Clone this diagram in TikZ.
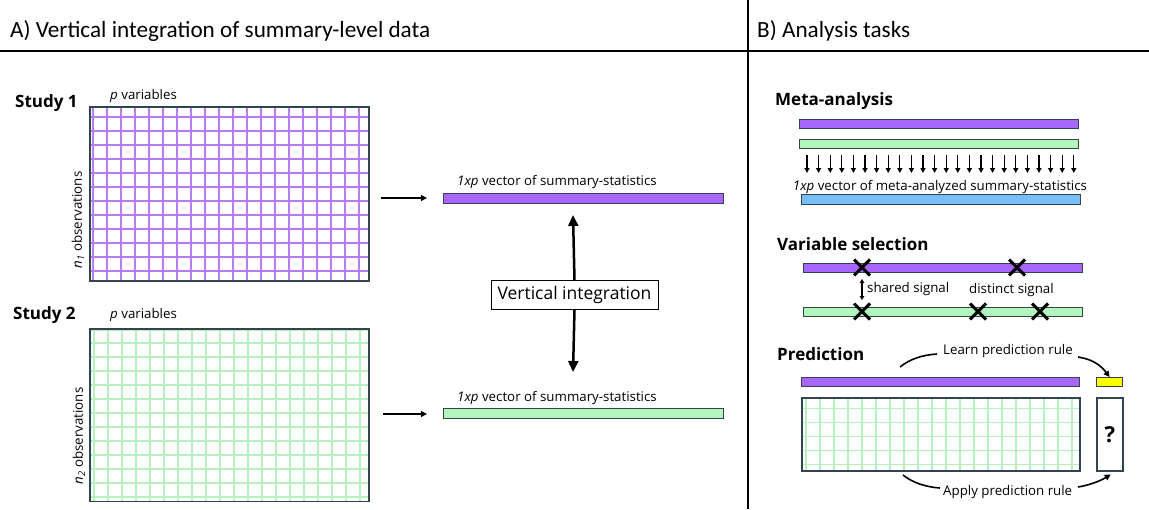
\documentclass[tikz,border=0pt]{standalone}
\usepackage{fontspec}
\setmainfont{Open Sans}
\newfontfamily\hdrfont{Carlito}
\usetikzlibrary{arrows.meta,shapes.misc}
\definecolor{purpgrid}{HTML}{B57CF5}
\definecolor{purpfill}{HTML}{A866FF}
\definecolor{greengrid}{HTML}{B8F0C0}
\definecolor{greenfill}{HTML}{B4F5BD}
\definecolor{bluefill}{HTML}{78BEF8}
\definecolor{edge}{HTML}{34444F}
\definecolor{yel}{HTML}{FFFF00}
\begin{document}
\begin{tikzpicture}[x=1pt,y=-1pt,
  bar/.style={draw=edge,line width=1.2pt,inner sep=0pt,anchor=north west},
  box/.style={draw=edge,line width=1.5pt,inner sep=0pt,anchor=north west},
  hdr/.style={font=\hdrfont\fontsize{23.2}{26}\selectfont,anchor=west,inner sep=0pt},
  ttl/.style={font=\bfseries\fontsize{17}{19}\selectfont,anchor=west,inner sep=0pt},
  lbl/.style={font=\fontsize{13.3}{15}\selectfont,inner sep=0pt},
  arr/.style={-{Triangle[width=6pt,length=6pt]},line width=1.4pt},
  xmark/.style={cross out,draw=black,line width=3pt,minimum size=13pt,inner sep=0pt}]
\useasboundingbox (0,0) rectangle (1149,509);
% header
\node[hdr] (ha) at (10,31) {A) Vertical integration of summary-level data};
\node[hdr] (hb) at (757,31) {B) Analysis tasks};
\coordinate (hl) at (0,51); \coordinate (hr) at (1149,51);
\draw[line width=2.5pt] (hl) -- (hr);
\coordinate (vt) at (748,0); \coordinate (vb) at (748,509);
\draw[line width=1.8pt] (vt) -- (vb);
% Study 1
\node[ttl] (t1) at (15,103) {Study 1};
\node[lbl,anchor=west] (p1) at (110,96) {\textit{p} variables};
\foreach \k in {0,...,19} \draw[purpgrid,line width=2pt] (93.3+14*\k,106) -- (93.3+14*\k,280);
\foreach \k in {0,...,11} \draw[purpgrid,line width=2pt] (89,117.3+14*\k) -- (368,117.3+14*\k);
\node[box,minimum width=279pt,minimum height=174pt] (s1) at (89,106) {};
\node[lbl,rotate=90] (o1) at (78,220) {\textit{n}\textsubscript{\textit{1}} observations};
% Study 2
\node[ttl] (t2) at (13,315) {Study 2};
\node[lbl,anchor=west] (p2) at (110,315) {\textit{p} variables};
\foreach \k in {0,...,19} \draw[greengrid,line width=2pt] (94.3+14*\k,328) -- (94.3+14*\k,500.7);
\foreach \y in {330,342.7,356.7,370.7,384.7,398.7,412.7,426.7,440.7,454.7,468.7,482.7,496.7} \draw[greengrid,line width=2pt] (89,\y) -- (368,\y);
\node[box,minimum width=279pt,minimum height=172.7pt] (s2) at (89,328) {};
\node[lbl,rotate=90] (o2) at (79,436) {\textit{n}\textsubscript{\textit{2}} observations};
% vectors
\node[bar,fill=purpfill,minimum width=280pt,minimum height=10pt] (v1) at (443,193) {};
\node[lbl] (l1) at (557,182) {\textit{1xp} vector of summary-statistics};
\node[bar,fill=greenfill,minimum width=280pt,minimum height=10pt] (v2) at (443,408) {};
\node[lbl] (l2) at (557,398) {\textit{1xp} vector of summary-statistics};
\coordinate (a1s) at (381,198); \coordinate (a1e) at (427,198);
\draw[arr] (a1s) -- (a1e);
\coordinate (a2s) at (383,414); \coordinate (a2e) at (427,414);
\draw[arr] (a2s) -- (a2e);
\node[draw=black,line width=0.8pt,font=\fontsize{17.5}{20}\selectfont,inner xsep=5pt,minimum height=29pt,minimum width=167pt] (vi) at (574.5,295) {Vertical integration};
\coordinate (vit) at (573,215); \coordinate (vib) at (573,372);
\draw[-{Triangle[width=10pt,length=11pt]},line width=2.5pt] (vi.north) -- (vit);
\draw[-{Triangle[width=10pt,length=11pt]},line width=2.5pt] (vi.south) -- (vib);
% Meta-analysis
\node[ttl] (tm) at (775,101) {Meta-analysis};
\node[bar,fill=purpfill,minimum width=279pt,minimum height=9pt] (m1) at (799,119) {};
\node[bar,fill=greenfill,minimum width=279pt,minimum height=9pt] (m2) at (799,139) {};
\foreach \k in {0,...,23} {
  \coordinate (ma\k) at (807+11.6*\k,155);
  \coordinate (mb\k) at (807+11.6*\k,173);
  \draw[-{Triangle[width=5pt,length=5pt]},line width=1.3pt] (ma\k) -- (mb\k);
}
\node[lbl] (lm) at (940,187) {\textit{1xp} vector of meta-analyzed summary-statistics};
\node[bar,fill=bluefill,minimum width=279pt,minimum height=10pt] (m3) at (801,194) {};
% Variable selection
\node[ttl] (tv) at (777,244) {Variable selection};
\node[bar,fill=purpfill,minimum width=279pt,minimum height=9pt] (vs1) at (803,263) {};
\node[bar,fill=greenfill,minimum width=279pt,minimum height=9pt] (vs2) at (803,307) {};
\node[xmark] (x1) at (862,267.5) {};
\node[xmark] (x2) at (1017,267.5) {};
\node[xmark] (x3) at (862,311.5) {};
\node[xmark] (x4) at (978,311.5) {};
\node[xmark] (x5) at (1040,311.5) {};
\coordinate (sa) at (862,279); \coordinate (sb) at (862,300);
\draw[{Triangle[width=4.5pt,length=4pt]}-{Triangle[width=4.5pt,length=4pt]},line width=1.2pt] (sa) -- (sb);
\node[lbl,anchor=west] (ss) at (867,289) {shared signal};
\node[lbl,anchor=west] (ds) at (969,290) {distinct signal};
% Prediction
\node[ttl] (tp) at (777,354) {Prediction};
\node[lbl,anchor=west] (lr) at (943,351) {Learn prediction rule};
\node[bar,fill=purpfill,minimum width=278pt,minimum height=9pt] (pb) at (801,377) {};
\node[bar,fill=yel,minimum width=26pt,minimum height=9pt] (yb) at (1096,377) {};
\foreach \k in {0,...,19} \draw[greengrid,line width=1.6pt] (805.7+14*\k,397) -- (805.7+14*\k,470);
\foreach \k in {0,...,4} \draw[greengrid,line width=1.6pt] (801,408.3+14*\k) -- (1079,408.3+14*\k);
\node[box,minimum width=278pt,minimum height=73pt] (pg) at (801,397) {};
\node[box,minimum width=26pt,minimum height=73pt] (qb) at (1096,397) {};
\node[font=\bfseries\fontsize{22}{24}\selectfont] (q) at (qb.center) {?};
\node[lbl,anchor=west] (ar) at (943,492) {Apply prediction rule};
\coordinate (c1s) at (900,367); \coordinate (c1e) at (937,354);
\draw[line width=1.6pt] (c1s) .. controls (910,359) and (922,355) .. (c1e);
\coordinate (c2s) at (1078,357);
\draw[-{Triangle[width=6pt,length=6pt]},line width=1.6pt] (c2s) .. controls (1090,359) and (1099,363) .. (yb.north);
\coordinate (c3s) at (903,475); \coordinate (c3e) at (940,488);
\draw[line width=1.6pt] (c3s) .. controls (913,483) and (926,487) .. (c3e);
\coordinate (c4s) at (1078,487);
\draw[-{Triangle[width=6pt,length=6pt]},line width=1.6pt] (c4s) .. controls (1090,485) and (1100,481) .. ([xshift=1pt,yshift=-3pt]qb.south);
\end{tikzpicture}
\end{document}
